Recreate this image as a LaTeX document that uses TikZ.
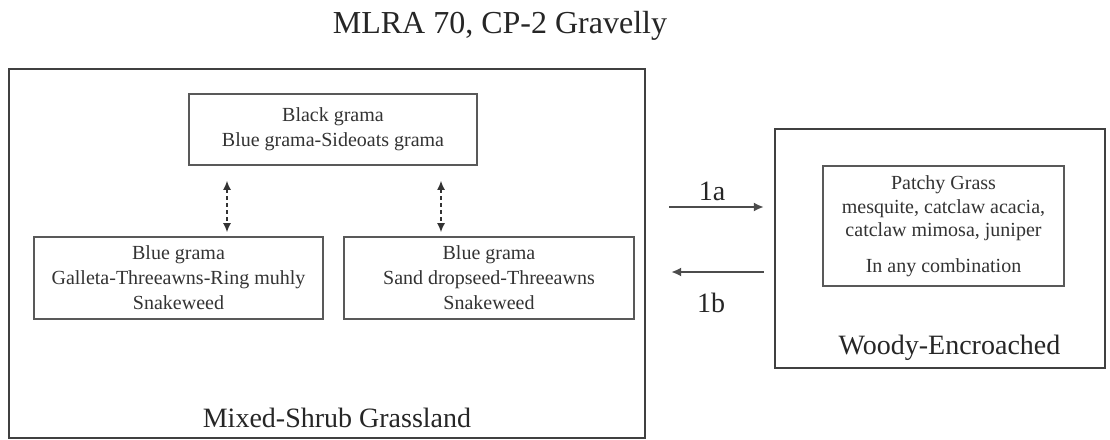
\documentclass[tikz,border=0pt]{standalone}
\usepackage{fontspec}
\setmainfont{Liberation Serif}
\usetikzlibrary{arrows.meta}
\begin{document}
\begin{tikzpicture}[x=1pt,y=-1pt,
  outerbox/.style={draw=black!75, line width=2.4pt, minimum width=#1, inner sep=0pt},
  statebox/.style={draw=black!65, line width=1.8pt, align=center, inner sep=0pt,
     font=\fontsize{20}{25}\selectfont, text=black!80},
  biglabel/.style={font=\fontsize{28}{32}\selectfont, text=black!85, anchor=base},
  dar/.style={black!80, line width=1.2pt, dash pattern=on 4pt off 3pt,
     {Latex[length=9pt,width=8pt]}-{Latex[length=9pt,width=8pt]}},
  sar/.style={black!70, line width=1.8pt, -{Latex[length=10pt,width=9pt]}}]
\useasboundingbox (0,0) rectangle (1110,439);
\fill[white] (0,0) rectangle (1110,439);

\node[anchor=base, font=\fontsize{32}{36}\selectfont, text=black!85] (title) at (500,33) {MLRA 70, CP-2 Gravelly};

\node[outerbox=636pt, minimum height=369pt] (outerL) at (327,253.5) {};
\node[outerbox=330pt, minimum height=239pt] (outerR) at (940,248.5) {};

\node[statebox, minimum width=288pt, minimum height=71pt] (top) at (333,129.5)
  {Black grama\\Blue grama-Sideoats grama};
\node[statebox, minimum width=289pt, minimum height=82pt] (ll) at (178.5,278)
  {Blue grama\\Galleta-Threeawns-Ring muhly\\Snakeweed};
\node[statebox, minimum width=290pt, minimum height=82pt] (lr) at (489,278)
  {Blue grama\\Sand dropseed-Threeawns\\Snakeweed};
\node[statebox, minimum width=241pt, minimum height=120pt, font=\fontsize{20}{23.5}\selectfont] (inner) at (943.5,226)
  {Patchy Grass\\mesquite, catclaw acacia,\\catclaw mimosa, juniper\\[12pt]In any combination};

\node[biglabel] (lblL) at (337,427) {Mixed-Shrub Grassland};
\node[biglabel] (lblR) at (949.5,354) {Woody-Encroached};

\draw[dar, shorten <=15pt, shorten >=4pt] ([xshift=-106pt]top.south) -- ([xshift=-106pt]top.south |- ll.north);
\draw[dar, shorten <=15pt, shorten >=4pt] ([xshift=108pt]top.south) -- ([xshift=108pt]top.south |- lr.north);

\coordinate (ya) at (0,207);
\coordinate (yb) at (0,272);
\draw[sar, shorten <=23pt, shorten >=10pt] (outerL.east |- ya) -- (outerR.west |- ya);
\draw[sar, shorten <=10pt, shorten >=25pt] (outerR.west |- yb) -- (outerL.east |- yb);

\node[biglabel] (la) at (712,200) {1a};
\node[biglabel] (lb) at (711,312) {1b};
\end{tikzpicture}
\end{document}
